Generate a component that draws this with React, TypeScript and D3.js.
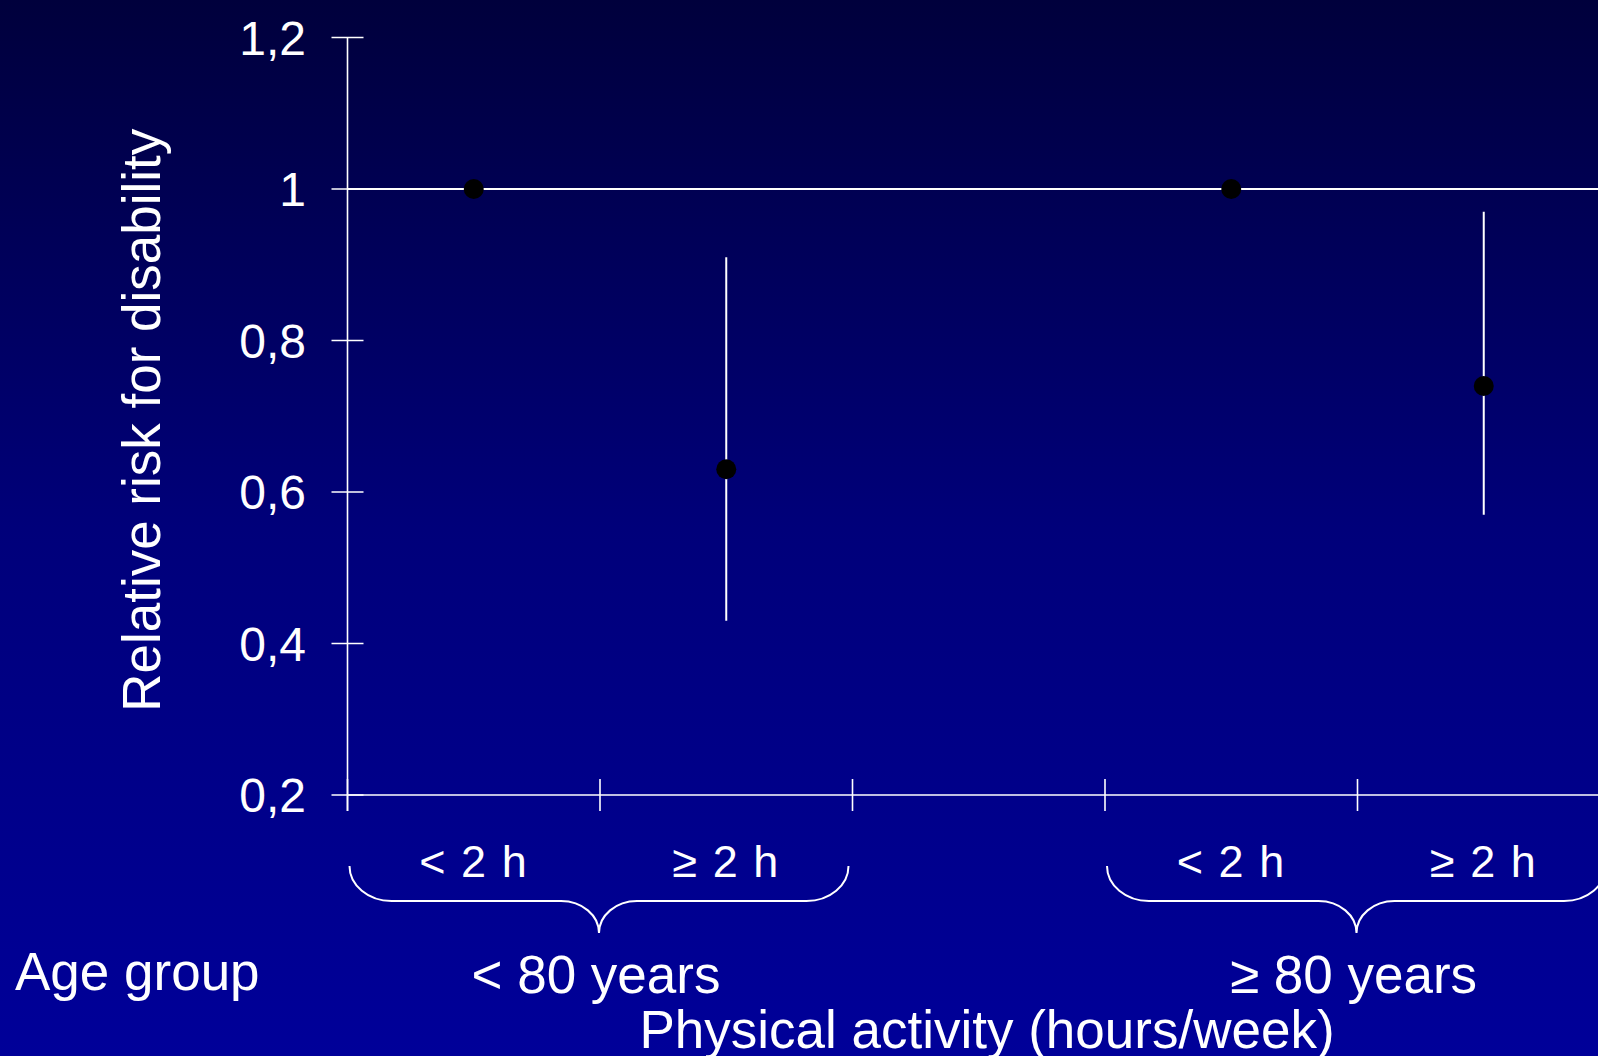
import React from "react";
import * as d3 from "d3";

// ---- data ----
const categoryKeys = ["u80_lt2", "u80_ge2", "gap", "o80_lt2", "o80_ge2"];
const categoryLabels = ["< 2 h", "≥ 2 h", "", "< 2 h", "≥ 2 h"];
const relativeRisk: (number | null)[] = [1.0, 0.63, null, 1.0, 0.74];
const ciLower: (number | null)[] = [null, 0.43, null, null, 0.57];
const ciUpper: (number | null)[] = [null, 0.91, null, null, 0.97];
const yTickValues = [0.2, 0.4, 0.6, 0.8, 1.0, 1.2];
const yTickLabels = ["0,2", "0,4", "0,6", "0,8", "1", "1,2"];
const ageGroupLabels = ["< 80 years", "≥ 80 years"];
const ageGroupMembers = [["u80_lt2", "u80_ge2"], ["o80_lt2", "o80_ge2"]];
const referenceValue = 1.0;
const yTitle = "Relative risk for disability";
const xTitle = "Physical activity (hours/week)";
const ageTitle = "Age group";

const W = 1598;
const H = 1056;
const FONT = "'Liberation Sans', Arial, Helvetica, sans-serif";

export default function App() {
  const x = d3.scaleBand<string>().domain(categoryKeys).range([347.5, 1610]).padding(0);
  const y = d3.scaleLinear().domain([0.2, 1.2]).range([795, 37.5]);
  const bw = x.bandwidth();
  const y0 = y(0.2);
  const axisX = x(categoryKeys[0])!;
  const tick = 16;

  const k = 0.5523;
  const bracePath = (x0: number, x1: number, yTop: number, yMid: number, yTip: number, rx: number, rt: number) => {
    const cx = (x0 + x1) / 2;
    const ry = yMid - yTop;
    const rty = yTip - yMid;
    const p = d3.path();
    p.moveTo(x0, yTop);
    p.bezierCurveTo(x0, yTop + k * ry, x0 + rx - k * rx, yMid, x0 + rx, yMid);
    p.lineTo(cx - rt, yMid);
    p.bezierCurveTo(cx - rt + k * rt, yMid, cx, yTip - k * rty, cx, yTip);
    p.bezierCurveTo(cx, yTip - k * rty, cx + rt - k * rt, yMid, cx + rt, yMid);
    p.lineTo(x1 - rx, yMid);
    p.bezierCurveTo(x1 - rx + k * rx, yMid, x1, yTop + k * ry, x1, yTop);
    return p.toString();
  };

  return (
    <svg
      width={W}
      height={H}
      style={{ position: "fixed", left: 0, top: 0, display: "block" }}
      fontFamily={FONT}
    >
      <defs>
        <linearGradient id="bg" x1="0" y1="0" x2="0" y2="1">
          <stop offset="0" stopColor="rgb(0,0,60)" />
          <stop offset="0.5" stopColor="rgb(0,0,122)" />
          <stop offset="1" stopColor="rgb(0,0,153)" />
        </linearGradient>
      </defs>
      <rect x={0} y={0} width={W} height={H} fill="url(#bg)" />

      {/* reference line */}
      <line x1={axisX} x2={W} y1={y(referenceValue)} y2={y(referenceValue)} stroke="#fff" strokeWidth={2.2} />

      {/* y axis */}
      <line x1={axisX} x2={axisX} y1={y(1.2)} y2={y0 + tick} stroke="#fff" strokeWidth={1.6} />
      {yTickValues.map((v, i) => (
        <g key={"yt" + i}>
          <line x1={axisX - tick} x2={axisX + tick} y1={y(v)} y2={y(v)} stroke="#fff" strokeWidth={1.6} />
          <text x={306} y={y(v)} dy={17} textAnchor="end" fill="#fff" fontSize={48}>
            {yTickLabels[i]}
          </text>
        </g>
      ))}

      {/* x axis */}
      <line x1={axisX} x2={W} y1={y0} y2={y0} stroke="#fff" strokeWidth={1.6} />
      {categoryKeys.map((c, i) => (
        <line key={"xt" + i} x1={x(c)!} x2={x(c)!} y1={y0 - tick} y2={y0 + tick} stroke="#fff" strokeWidth={1.6} />
      ))}

      {/* category labels */}
      {categoryKeys.map((c, i) =>
        categoryLabels[i] ? (
          <text
            key={"cl" + i}
            x={x(c)! + bw / 2}
            y={877}
            textAnchor="middle"
            fill="#fff"
            fontSize={45}
            letterSpacing={1.5}
          >
            {categoryLabels[i]}
          </text>
        ) : null
      )}

      {/* braces + age group labels */}
      {ageGroupMembers.map((m, gi) => {
        const x0 = x(m[0])! + 2;
        const x1 = x(m[m.length - 1])! + bw - 4;
        return (
          <g key={"br" + gi}>
            <path d={bracePath(x0, x1, 866, 901, 933, 42, 38)} fill="none" stroke="#fff" strokeWidth={2} />
            <text x={(x0 + x1) / 2 - 3} y={993} textAnchor="middle" fill="#fff" fontSize={53}>
              {ageGroupLabels[gi]}
            </text>
          </g>
        );
      })}

      {/* error bars */}
      {categoryKeys.map((c, i) =>
        ciLower[i] != null && ciUpper[i] != null ? (
          <line
            key={"eb" + i}
            x1={x(c)! + bw / 2}
            x2={x(c)! + bw / 2}
            y1={y(ciUpper[i]!)}
            y2={y(ciLower[i]!)}
            stroke="#fff"
            strokeWidth={2}
          />
        ) : null
      )}

      {/* points */}
      {categoryKeys.map((c, i) =>
        relativeRisk[i] != null ? (
          <circle key={"pt" + i} cx={x(c)! + bw / 2} cy={y(relativeRisk[i]!)} r={10} fill="#000" />
        ) : null
      )}

      {/* titles */}
      <text x={15} y={990} fill="#fff" fontSize={53}>
        {ageTitle}
      </text>
      <text x={987} y={1048} textAnchor="middle" fill="#fff" fontSize={53}>
        {xTitle}
      </text>
      <text
        transform={`translate(160, ${(y(1.2) + y0) / 2 + 4}) rotate(-90)`}
        textAnchor="middle"
        fill="#fff"
        fontSize={53}
      >
        {yTitle}
      </text>
    </svg>
  );
}
